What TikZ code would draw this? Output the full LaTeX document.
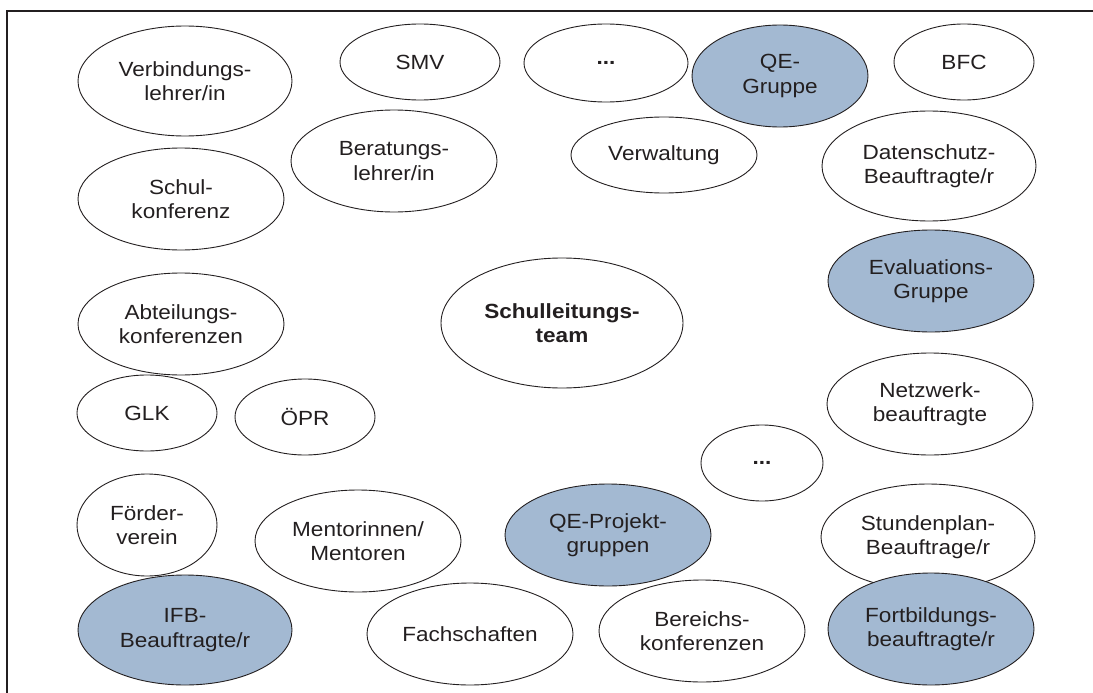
\documentclass[tikz,border=0pt]{standalone}
\usepackage{fontspec}
\usetikzlibrary{shapes.geometric}
\newfontfamily\lblfont{Liberation Sans}[FakeStretch=1.1]
\definecolor{qeblue}{RGB}{163,185,210}
\definecolor{ink}{RGB}{35,31,32}
\begin{document}
\begin{tikzpicture}[x=1pt,y=-1pt,
  el/.style={ellipse, draw=ink, line width=0.9pt, inner sep=0pt, align=center, text=ink,
    font=\lblfont\fontsize{20.5}{24.5}\selectfont},
  hl/.style={el, fill=qeblue},
  sz/.style 2 args={minimum width=#1pt, minimum height=#2pt},
  frameline/.style={draw=ink, line width=1.3pt}]
\useasboundingbox (0,0) rectangle (1093,693);
\coordinate (fTR) at (1093,11);
\coordinate (fTL) at (7,11);
\coordinate (fBL) at (7,693);
\draw[frameline] (fTR) -- (fTL) -- (fBL);

\node[el, sz={214}{110}] (verb) at (185,81) {Verbindungs-\\lehrer/in};
\node[el, sz={160}{76}] (smv) at (420,62) {SMV};
\node[el, sz={164}{78}] (dots1) at (606,63) {\textbf{...}};
\node[hl, sz={176}{102}] (qeg) at (780,76) {QE-\\Gruppe};
\node[el, sz={140}{76}] (bfc) at (964,62) {BFC};
\node[el, sz={206}{102}] (berat) at (394,161) {Beratungs-\\lehrer/in};
\node[el, sz={186}{76}] (verw) at (664,155) {Verwaltung};
\node[el, sz={214}{110}] (daten) at (929,166) {Datenschutz-\\Beauftragte/r};
\node[el, sz={206}{102}] (schulk) at (181,199) {Schul-\\konferenz};
\node[hl, sz={206}{102}] (eval) at (931,281) {Evaluations-\\Gruppe};
\node[el, sz={206}{102}] (abt) at (181,324) {Abteilungs-\\konferenzen};
\node[el, sz={242}{130}, font=\lblfont\bfseries\fontsize{20.5}{24.5}\selectfont] (slt) at (562,323) {Schulleitungs-\\team};
\node[el, sz={206}{102}] (netz) at (930,404) {Netzwerk-\\beauftragte};
\node[el, sz={140}{76}] (glk) at (147,413) {GLK};
\node[el, sz={140}{76}] (opr) at (305,417) {ÖPR};
\node[el, sz={122}{76}] (dots2) at (762,463) {\textbf{...}};
\node[el, sz={140}{102}] (foerd) at (147,525) {Förder-\\verein};
\node[el, sz={206}{102}] (ment) at (358,541) {Mentorinnen/\\Mentoren};
\node[hl, sz={206}{102}] (qep) at (608,535) {QE-Projekt-\\gruppen};
\node[el, sz={214}{106}] (stund) at (928,537) {Stundenplan-\\Beauftrage/r};
\node[hl, sz={214}{110}] (ifb) at (185,630) {IFB-\\Beauftragte/r};
\node[el, sz={206}{102}] (fach) at (470,634) {Fachschaften};
\node[el, sz={206}{102}] (ber) at (702,631) {Bereichs-\\konferenzen};
\node[hl, sz={206}{112}] (fort) at (931,629) {Fortbildungs-\\beauftragte/r};
\end{tikzpicture}
\end{document}
